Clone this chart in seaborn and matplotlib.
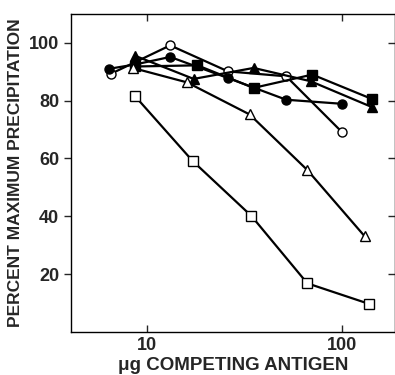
import matplotlib
matplotlib.use("Agg")
import matplotlib.pyplot as plt
import seaborn as sns
import pandas as pd

# values (x = ug competing antigen, y = percent max precipitation)
open_circle_x = [6.5, 13.1, 26.0, 51.8, 100]
open_circle_y = [89.3, 99.1, 90.1, 88.4, 69.2]

filled_circle_x = [6.35, 8.65, 13.1, 26.0, 51.8, 100]
filled_circle_y = [91.0, 92.5, 95.1, 87.8, 80.3, 78.9]

filled_triangle_x = [8.65, 17.3, 35.2, 69.2, 142.6]
filled_triangle_y = [95.5, 87.5, 91.3, 86.7, 77.8]

filled_square_x = [8.65, 18.1, 35.2, 70.6, 142.6]
filled_square_y = [91.8, 92.2, 84.4, 89.0, 80.6]

open_triangle_x = [8.4, 16.0, 33.6, 66.5, 131.5]
open_triangle_y = [91.3, 86.3, 75.2, 56.0, 33.0]

open_square_x = [8.65, 17.1, 34.3, 66.5, 138]
open_square_y = [81.5, 59.1, 40.1, 16.8, 9.7]

series = [
    (open_circle_x, open_circle_y, 'o', 'white'),
    (filled_circle_x, filled_circle_y, 'o', 'black'),
    (filled_triangle_x, filled_triangle_y, '^', 'black'),
    (filled_square_x, filled_square_y, 's', 'black'),
    (open_triangle_x, open_triangle_y, '^', 'white'),
    (open_square_x, open_square_y, 's', 'white'),
]

sns.set_style("ticks")
plt.rcParams['font.family'] = ['Liberation Sans', 'DejaVu Sans']

fig = plt.figure(figsize=(3.95, 3.75), dpi=100)
ax = fig.add_axes([0.18, 0.115, 0.82, 0.848])

for xs, ys, m, fc in series:
    df = pd.DataFrame({'x': xs, 'y': ys})
    sns.lineplot(data=df, x='x', y='y', ax=ax, color='black', lw=1.6,
                 marker=m, markersize=6.5, markerfacecolor=fc,
                 markeredgecolor='black', markeredgewidth=1.0)

ax.set_xscale('log')
ax.set_xlim(4.05, 188)
ax.set_ylim(0, 110)
ax.set_xticks([10, 100])
ax.set_xticklabels(['10', '100'])
ax.minorticks_off()
ax.set_yticks([20, 40, 60, 80, 100])

for s in ax.spines.values():
    s.set_linewidth(1.0)
    s.set_color('black')

ax.tick_params(axis='y', which='major', direction='out', length=5, width=1,
               labelsize=13)
ax.tick_params(axis='x', which='major', direction='in', length=5, width=1,
               labelsize=13, top=True)
for lab in ax.get_xticklabels() + ax.get_yticklabels():
    lab.set_fontweight('bold')

# inward ticks on the right side
right = ax.secondary_yaxis('right')
right.set_yticks([20, 40, 60, 80, 100])
right.tick_params(direction='in', length=5, width=1, labelright=False)

ax.set_xlabel('\u03bcg COMPETING ANTIGEN', fontsize=13.5, fontweight='bold', labelpad=2)
ax.set_ylabel('PERCENT MAXIMUM PRECIPITATION', fontsize=12.5, fontweight='bold', labelpad=4)

fig.savefig('out.png', dpi=100)
